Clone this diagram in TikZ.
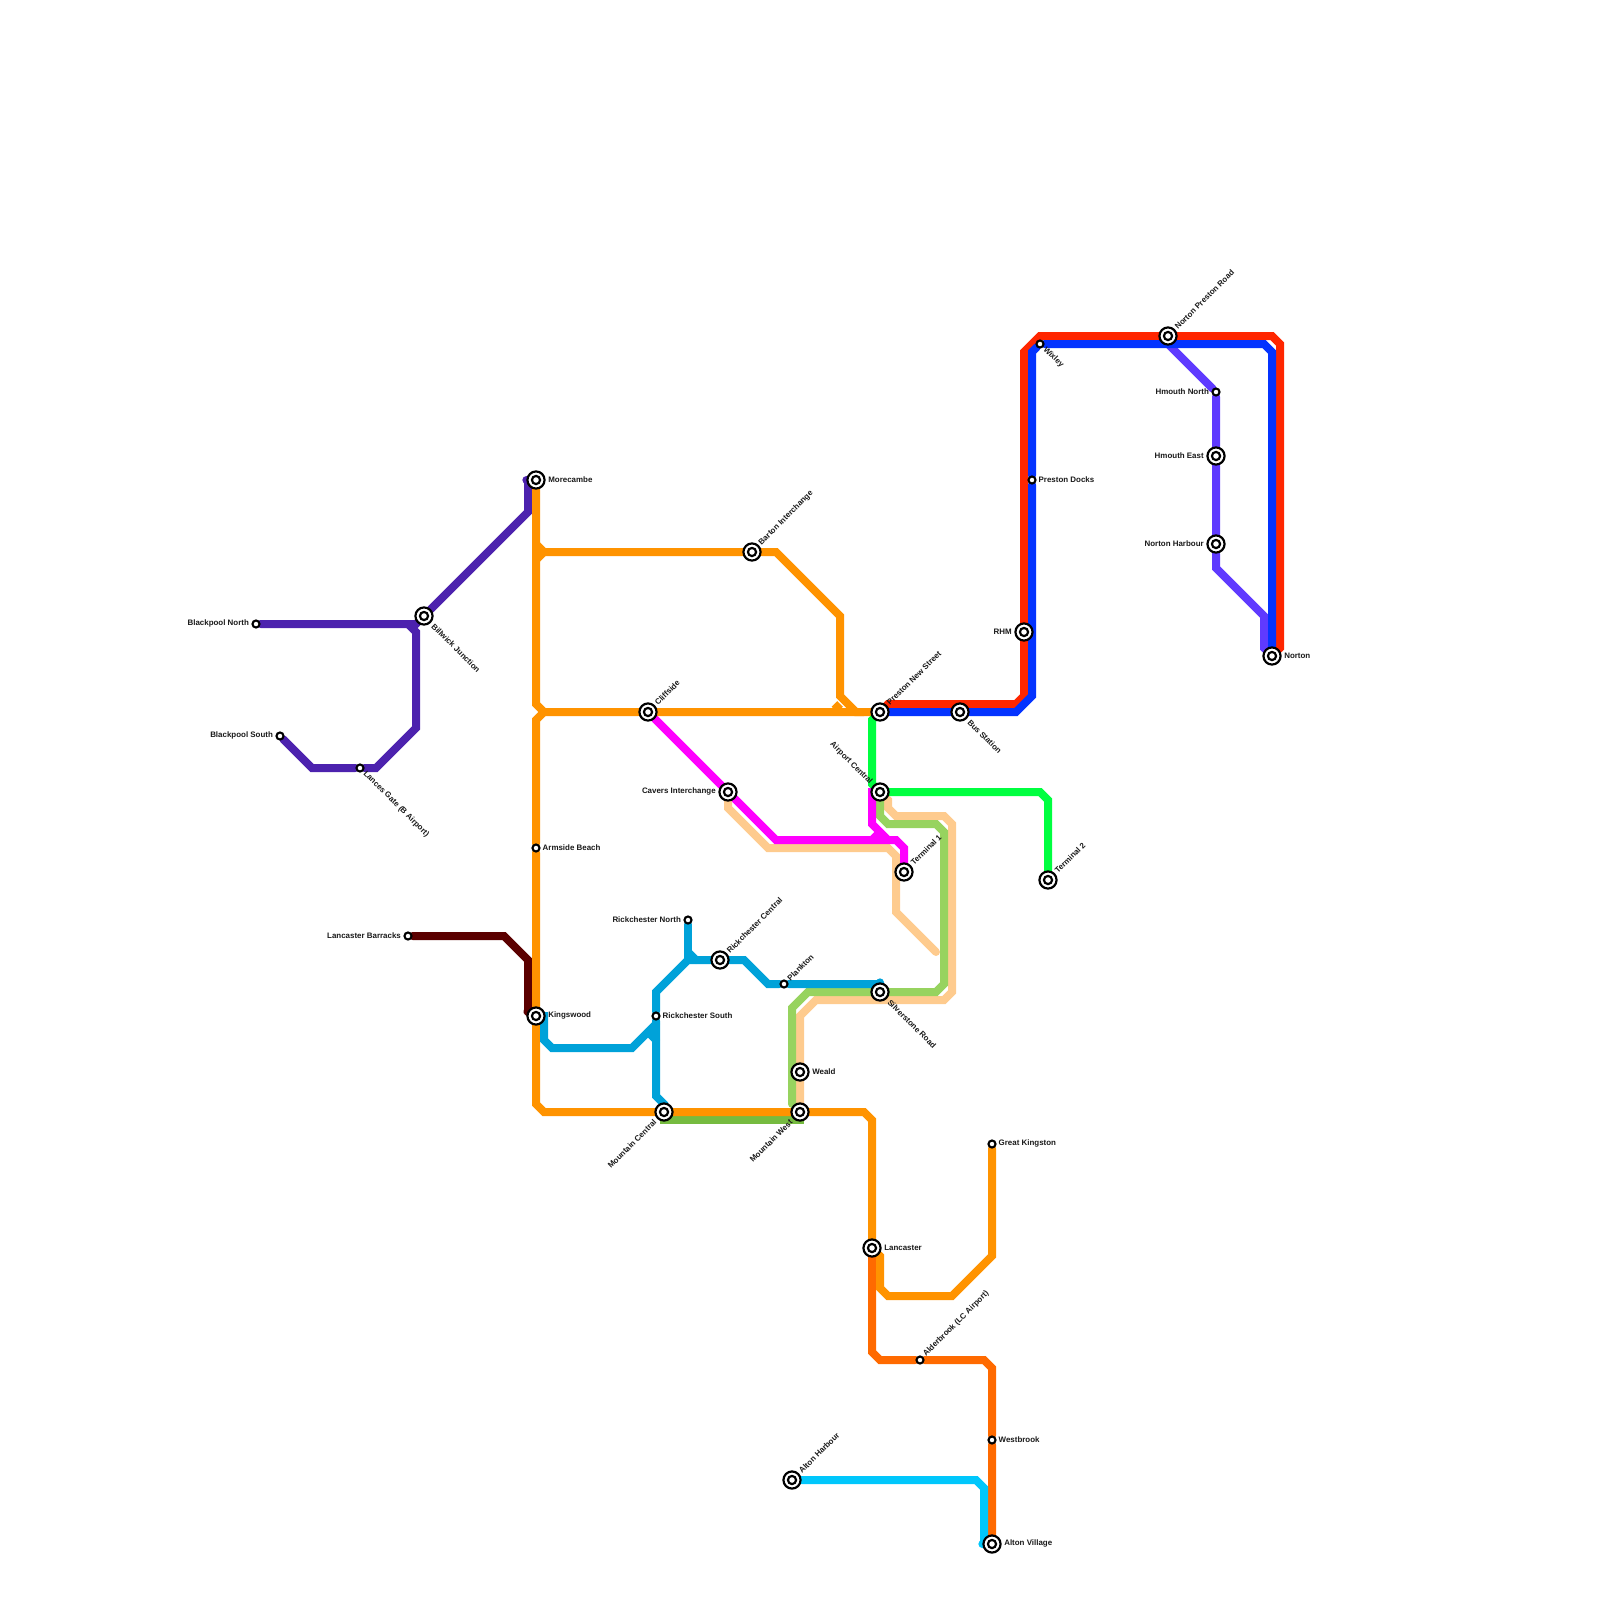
\documentclass[tikz,border=0pt]{standalone}
\usepackage{fontspec}
\setmainfont{Liberation Sans}
\usetikzlibrary{backgrounds}
\definecolor{cpurple}{HTML}{4C22AE}
\definecolor{corange}{HTML}{FF9300}
\definecolor{cdorange}{HTML}{FF6A00}
\definecolor{cmaroon}{HTML}{5B0000}
\definecolor{criver}{HTML}{00A2D9}
\definecolor{clime}{HTML}{97D35F}
\definecolor{cmoss}{HTML}{76BB40}
\definecolor{cpeach}{HTML}{FECB8E}
\definecolor{cgreen}{HTML}{00FF40}
\definecolor{cred}{HTML}{FF2600}
\definecolor{cblue}{HTML}{0433FF}
\definecolor{cviolet}{HTML}{5F3AFF}
\definecolor{ccyan}{HTML}{00C7FC}
\definecolor{cpink}{HTML}{FF00FF}
\begin{document}
\begin{tikzpicture}[
    x=0.2cm, y=-0.2cm,
    route/.style={draw=#1, line width=5.69pt, line join=miter, line cap=round},
    stop/.style={circle, draw=black, fill=white, line width=1.5pt, minimum size=5pt, inner sep=0pt},
    hub/.style={circle, draw=black, fill=white, line width=1.55pt, minimum size=12.2pt, inner sep=0pt,
        path picture={\draw[line width=1.55pt] (path picture bounding box.center) circle (2.9pt);}},
    txt/.style={font=\bfseries\fontsize{5.65}{6.5}\selectfont, text=black!90, inner sep=0pt},
    lbe/.style={txt, anchor=west, shift={(#1,-.06)}},
    lbw/.style={txt, anchor=east, shift={(-#1,-.06)}},
    lbne/.style={txt, anchor=west, shift={(#1,-#1)}, rotate=45},
    lbse/.style={txt, anchor=west, shift={(#1,#1)}, rotate=-45},
    lbsw/.style={txt, anchor=east, shift={(-#1,#1)}, rotate=45},
    lbnw/.style={txt, anchor=east, shift={(-#1,-#1)}, rotate=-45}
]
\useasboundingbox (0,0) rectangle (200,200);

\node[hub] (more) at (67,60) {};
\node[hub] (bill) at (53,77) {};
\node[stop] (bnor) at (32,78) {};
\node[stop] (bsou) at (35,92) {};
\node[stop] (lanc) at (45,96) {};
\node[stop] (arms) at (67,106) {};
\node[stop] (lbar) at (51,117) {};
\node[hub] (king) at (67,127) {};
\node[hub] (barn) at (94,69) {};
\node[hub] (clif) at (81,89) {};
\node[hub] (cave) at (91,99) {};
\node[hub] (pres) at (110,89) {};
\node[hub] (busx) at (120,89) {};
\node[hub] (airp) at (110,99) {};
\node[hub] (ter1) at (113,109) {};
\node[hub] (ter2) at (131,110) {};
\node[stop] (rnor) at (86,115) {};
\node[hub] (rcen) at (90,120) {};
\node[stop] (plan) at (98,123) {};
\node[stop] (rsou) at (82,127) {};
\node[hub] (silv) at (110,124) {};
\node[hub] (weal) at (100,134) {};
\node[hub] (mcen) at (83,139) {};
\node[hub] (mwes) at (100,139) {};
\node[stop] (gkin) at (124,143) {};
\node[hub] (lncs) at (109,156) {};
\node[stop] (alde) at (115,170) {};
\node[stop] (west) at (124,180) {};
\node[hub] (ahar) at (99,185) {};
\node[hub] (avil) at (124,193) {};
\node[hub] (rhmx) at (128,79) {};
\node[stop] (pdoc) at (129,60) {};
\node[stop] (wixl) at (130,43) {};
\node[hub] (npre) at (146,42) {};
\node[stop] (hnor) at (152,49) {};
\node[hub] (heas) at (152,57) {};
\node[hub] (nhar) at (152,68) {};
\node[hub] (nort) at (159,82) {};

\node[lbe=1.5] (more-t) at (more) {Morecambe};
\node[lbse=1.1] (bill-t) at (bill) {Billwick Junction};
\node[lbw=.85] (bnor-t) at (bnor) {Blackpool North};
\node[lbw=.85] (bsou-t) at (bsou) {Blackpool South};
\node[lbse=.55] (lanc-t) at (lanc) {Lances Gate (B Airport)};
\node[lbe=.8] (arms-t) at (arms) {Armside Beach};
\node[lbw=.85] (lbar-t) at (lbar) {Lancaster Barracks};
\node[lbe=1.5] (king-t) at (king) {Kingswood};
\node[lbne=1] (barn-t) at (barn) {Barton Interchange};
\node[lbne=1] (clif-t) at (clif) {Cliffside};
\node[lbw=1.5] (cave-t) at (cave) {Cavers Interchange};
\node[lbne=1] (pres-t) at (pres) {Preston New Street};
\node[lbse=1.1] (busx-t) at (busx) {Bus Station};
\node[lbnw=1.1] (airp-t) at (airp) {Airport Central};
\node[lbne=1] (ter1-t) at (ter1) {Terminal 1};
\node[lbne=1] (ter2-t) at (ter2) {Terminal 2};
\node[lbw=.85] (rnor-t) at (rnor) {Rickchester North};
\node[lbne=1] (rcen-t) at (rcen) {Rickchester Central};
\node[lbne=.55] (plan-t) at (plan) {Plankton};
\node[lbe=.8] (rsou-t) at (rsou) {Rickchester South};
\node[lbse=1.1] (silv-t) at (silv) {Silverstone Road};
\node[lbe=1.5] (weal-t) at (weal) {Weald};
\node[lbsw=1.1] (mcen-t) at (mcen) {Mountain Central};
\node[lbsw=1.1] (mwes-t) at (mwes) {Mountain West};
\node[lbe=.8] (gkin-t) at (gkin) {Great Kingston};
\node[lbe=1.5] (lncs-t) at (lncs) {Lancaster};
\node[lbne=.55] (alde-t) at (alde) {Alderbrook (LC Airport)};
\node[lbe=.8] (west-t) at (west) {Westbrook};
\node[lbne=1] (ahar-t) at (ahar) {Alton Harbour};
\node[lbe=1.5] (avil-t) at (avil) {Alton Village};
\node[lbw=1.5] (rhmx-t) at (rhmx) {RHM};
\node[lbe=.8] (pdoc-t) at (pdoc) {Preston Docks};
\node[lbse=.55] (wixl-t) at (wixl) {Wixley};
\node[lbne=1] (npre-t) at (npre) {Norton Preston Road};
\node[lbw=.85] (hnor-t) at (hnor) {Hmouth North};
\node[lbw=1.5] (heas-t) at (heas) {Hmouth East};
\node[lbw=1.5] (nhar-t) at (nhar) {Norton Harbour};
\node[lbe=1.5] (nort-t) at (nort) {Norton};

\begin{scope}[on background layer]
\draw[route=cpurple] (bnor) -- (52,78) -- (bill);
\draw[route=cpurple] (bsou) -- (39,96) -- (lanc) -- (47,96) -- (52,91) -- (52,79) -- (51,78);
\draw[route=cpurple] (bill) -- (66,64) -- (66,60) -- (more);
\draw[route=cmaroon] (lbar) -- (63,117) -- (66,120) -- (66,126.5) -- (king);
\draw[route=cdorange] (lncs) -- (109,169) -- (110,170) -- (alde) -- (123,170) -- (124,171) -- (west) -- (avil);
\draw[route=cmoss] (mcen.center) -- (83,140) -- (100,140) -- (mwes.center);
\draw[route=cpeach] (mwes) -- (weal) -- (100,127) -- (102,125) -- (118,125) -- (119,124) -- (119,103) -- (118,102) -- (112,102) -- (111,101) -- (111,100) -- (airp.center);
\draw[route=cpeach] (cave) -- (91,101) -- (96,106) -- (111,106) -- (112,107) -- (112,114) -- (117,119);
\draw[route=clime] (99,138) -- (99,126) -- (101,124) -- (silv) -- (117,124) -- (118,123) -- (118,104) -- (117,103) -- (111,103) -- (110,102) -- (airp);
\draw[route=corange] (more) -- (67,88) -- (68,89) -- (clif) -- (pres);
\draw[route=corange] (68,89) -- (67,90) -- (arms) -- (king) -- (67,138) -- (68,139) -- (mcen) -- (mwes) -- (108,139) -- (109,140) -- (lncs);
\draw[route=corange] (67,68) -- (68,69) -- (barn) -- (97,69) -- (105,77) -- (105,87) -- (107,89) -- (108,89);
\draw[route=corange] (67,70) -- (68,69);
\draw[route=corange, line cap=butt] (105,88) -- (104.3,88.7);
\draw[route=corange] (lncs) -- (110,157) -- (110,161) -- (111,162) -- (119,162) -- (124,157) -- (gkin);
\draw[route=criver] (king.center) -- (68,127) -- (68,130) -- (69,131) -- (79,131) -- (82,128);
\draw[route=criver] (mcen.center) -- (83,138) -- (82,137) -- (rsou) -- (82,124) -- (86,120) -- (rcen) -- (93,120) -- (96,123) -- (plan) -- (110,123) -- (silv);
\draw[route=criver] (rnor) -- (86,120);
\draw[route=criver] (86,119) -- (87,120);
\draw[route=criver] (81,129) -- (82,130);
\draw[route=cpink] (clif) -- (cave) -- (97,105) -- (112,105) -- (113,106) -- (ter1);
\draw[route=cpink] (airp.center) -- (109,99) -- (109,103) -- (111,105);
\draw[route=cpink] (110,104) -- (109,105);
\draw[route=cgreen] (pres.center) -- (109,90) -- (109,98) -- (airp.center);
\draw[route=cgreen] (airp) -- (130,99) -- (131,100) -- (ter2);
\draw[route=cred] (pres) -- (111,88) -- (127,88) -- (128,87) -- (rhmx) -- (128,44) -- (130,42) -- (npre) -- (159,42) -- (160,43) -- (160,81) -- (nort);
\draw[route=cviolet] (npre.center) -- (146,43) -- (hnor) -- (heas) -- (nhar) -- (152,71) -- (158,77) -- (158,81) -- (nort);
\draw[route=cblue] (pres) -- (busx) -- (127,89) -- (129,87) -- (pdoc) -- (129,44) -- (wixl) -- (158,43) -- (159,44) -- (nort);
\draw[route=ccyan] (ahar) -- (122,185) -- (123,186) -- (123,193) -- (avil);
\end{scope}
\end{tikzpicture}
\end{document}
